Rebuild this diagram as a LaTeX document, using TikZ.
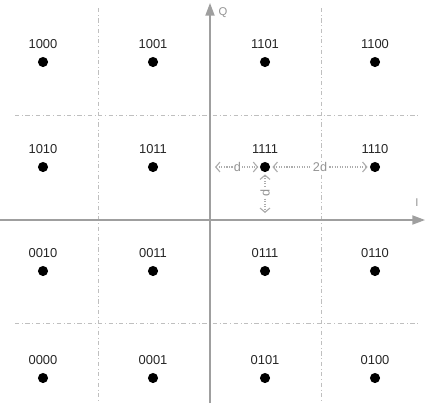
\documentclass[tikz,border=0pt]{standalone}
\usepackage{fontspec}
\setmainfont{Liberation Sans}
\usetikzlibrary{arrows.meta}
\tikzset{
  ax/.style={gray!75,line width=1pt,-{Triangle[length=9pt,width=6.5pt]}},
  grd/.style={gray!50,dash dot,line width=0.55pt},
  sym/.style={circle,fill=black,inner sep=0pt,minimum size=7.2pt},
  bits/.style={font=\fontsize{9.2}{10}\selectfont,text=black!85,label distance=2.5pt},
  dim/.style={gray!65,densely dotted,line width=0.8pt,{Straight Barb[length=3pt,width=7pt]}-{Straight Barb[length=3pt,width=7pt]}},
  dlab/.style={fill=white,inner sep=0.6pt,text=gray!85,font=\fontsize{9}{10}\selectfont},
  axlab/.style={text=gray!85,font=\fontsize{8}{10}\selectfont,inner sep=0pt}
}

\begin{document}
\begin{tikzpicture}[x=0.025cm,y=-0.025cm]
\useasboundingbox (0,0) rectangle (425,403);
% decision grid
\draw[grd] (98,8) -- (98,403);
\draw[grd] (321,8) -- (321,403);
\draw[grd] (15,115) -- (420,115);
\draw[grd] (15,323) -- (420,323);
% axes
\coordinate (io) at (0,220); \coordinate (ie) at (425,220);
\coordinate (qo) at (210,403); \coordinate (qe) at (210,3);
\draw[ax] (io) -- (ie);
\draw[ax] (qo) -- (qe);
\node[axlab] (ilab) at (417,203) {I};
\node[axlab] (qlab) at (223,13) {Q};
% constellation points
\foreach \lab/\x/\y in {1000/43/62,1001/153/62,1101/265/62,1100/375/62,
                        1010/43/167,1011/153/167,1111/265/167,1110/375/167,
                        0010/43/271,0011/153/271,0111/265/271,0110/375/271,
                        0000/43/378,0001/153/378,0101/265/378,0100/375/378}
  \node[sym,label={[bits]above:\lab}] (s\lab) at (\x,\y) {};
% distances
\coordinate (dl) at (215,167);
\coordinate (dv) at (265,213);
\draw[dim,shorten >=1pt] (dl) -- (s1111.west) node[midway,dlab] (dh) {d};
\draw[dim,shorten <=1.5pt,shorten >=1.5pt] (s1111.east) -- (s1110.west) node[midway,dlab] (dd) {2d};
\draw[dim,shorten <=1.5pt] (s1111.south) -- (dv) node[midway,dlab,rotate=90] (dy) {d};
\end{tikzpicture}
\end{document}
